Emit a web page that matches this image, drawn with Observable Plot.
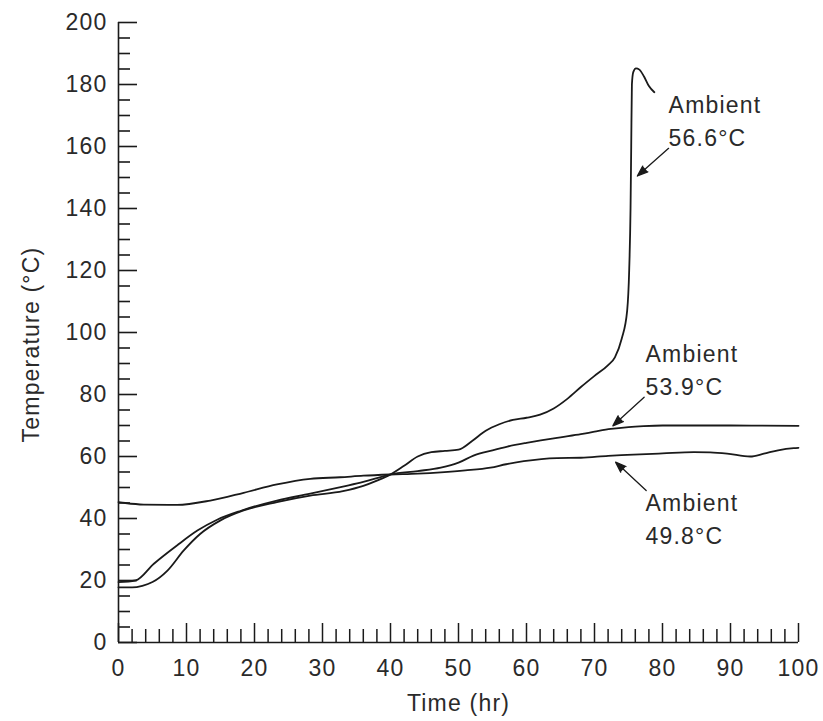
<!DOCTYPE html>
<html><head><meta charset="utf-8">
<script src="https://cdn.jsdelivr.net/npm/d3@7"></script>
<script src="https://cdn.jsdelivr.net/npm/@observablehq/plot@0.6"></script>
<style>body{margin:0;background:#fff}</style>
</head><body><div id="chart"></div>
<script>
// Ambient 56.6°C (runaway)
const timeA = [0, 2, 3.5, 5, 7.2, 9.6, 12, 15, 18.4, 23.3, 28.2, 33, 36, 38, 40, 42, 44, 46, 48, 50, 52, 54, 56, 58, 60, 62, 64, 66, 68, 70, 72, 73, 74, 74.8, 75.1, 75.3, 75.4, 75.5, 75.7, 76.1, 76.6, 77.3, 78, 78.8];
const tempA = [17.8, 17.8, 18.3, 19.5, 23.2, 29.7, 35, 39.4, 42.6, 45.3, 47.4, 48.8, 50.5, 52.2, 54.2, 57, 60, 61.4, 61.8, 62.2, 65, 68.3, 70.4, 71.8, 72.5, 73.5, 75.5, 78.6, 82.4, 86, 89.5, 92, 98, 107, 120, 140, 160, 180, 184, 185.2, 184.8, 182.5, 179.5, 177.5];
// Ambient 53.9°C
const timeC = [0, 2.5, 5.2, 8.6, 11.6, 14.5, 18, 23.3, 28.2, 33, 36, 38, 40, 44, 47.4, 50, 52.2, 55, 57.2, 60, 62.1, 65, 68, 70, 72.4, 75, 77.2, 80, 90, 100];
const tempC = [19.5, 20, 25.4, 31.3, 36.1, 39.6, 42.5, 45.8, 48, 50.3, 51.8, 53, 54.2, 55.3, 56.4, 58, 60.3, 62, 63.2, 64.4, 65.2, 66.2, 67.2, 68, 68.9, 69.5, 69.8, 70, 70, 69.9];
// Ambient 49.8°C
const timeB = [0, 1, 3.7, 8.6, 13.5, 18.4, 23.3, 28.2, 32.6, 36, 40, 44, 47.4, 51, 54.7, 57, 59.6, 64.5, 68, 72, 74.8, 80, 84.6, 87, 89.5, 92.9, 94.9, 97, 99.3, 100];
const tempB = [45.3, 45, 44.5, 44.4, 45.8, 48.3, 51, 52.8, 53.3, 53.8, 54.2, 54.5, 54.9, 55.5, 56.4, 57.5, 58.5, 59.5, 59.6, 60.2, 60.5, 61, 61.4, 61.3, 60.9, 60, 60.9, 62, 62.7, 62.8];

const seriesNames = ["Ambient 56.6°C", "Ambient 53.9°C", "Ambient 49.8°C"];

// annotation labels
const labelText = ["Ambient\n56.6°C", "Ambient\n53.9°C", "Ambient\n49.8°C"];
const labelX = [80.9, 77.5, 77.5];
const labelY = [169, 88.7, 40.5];
// arrows: tail -> tip
const arrowX1 = [80.9, 77.3, 77.6];
const arrowY1 = [159.4, 79.1, 49];
const arrowX2 = [76.3, 72.7, 73.1];
const arrowY2 = [150.5, 69.9, 58.2];

const yMajor = d3.range(0, 201, 20);
const yMinor = d3.range(0, 201, 5).filter(v => v % 20);
const xMajor = d3.range(0, 101, 10);
const xMinor = d3.range(0, 101, 2).filter(v => v % 10);

const rows = [];
[[timeA, tempA], [timeC, tempC], [timeB, tempB]].forEach(([ts, vs], i) => {
  ts.forEach((t, j) => rows.push({series: seriesNames[i], t, T: vs[j]}));
});
const labels = labelText.map((text, i) => ({text, x: labelX[i], y: labelY[i]}));
const arrows = arrowX1.map((x1, i) => ({x1, y1: arrowY1[i], x2: arrowX2[i], y2: arrowY2[i]}));

const font = "'Liberation Sans', Arial, Helvetica, sans-serif";
const ink = "#1a1a1a";
const textInk = "#2a2a2a";
const W = 823, H = 721, mL = 118, mR = 25, mT = 22, mB = 79;
const frameW = W - mL - mR;
const frameH = H - mT - mB;

const chart = Plot.plot({
  width: W,
  height: H,
  marginLeft: mL,
  marginRight: mR,
  marginTop: mT,
  marginBottom: mB,
  x: {domain: [0, 100]},
  y: {domain: [0, 200]},
  style: {fontFamily: font, fontSize: "23px", color: ink, background: "white", letterSpacing: "1.2px"},
  marks: [
    Plot.axisY({ticks: yMajor, tickSize: 0, tickPadding: 11, label: null, fontSize: 23, fill: textInk}),
    Plot.tickY(yMajor, {y: d => d, stroke: ink, strokeWidth: 1.6, insetRight: frameW - 19}),
    Plot.tickY(yMinor, {y: d => d, stroke: ink, strokeWidth: 1.6, insetRight: frameW - 12}),
    Plot.axisX({ticks: xMajor, tickSize: 0, tickPadding: 17, label: null, fontSize: 23, fill: textInk}),
    Plot.tickX(xMajor, {x: d => d, stroke: ink, strokeWidth: 1.5, insetTop: frameH - 19}),
    Plot.tickX(xMinor, {x: d => d, stroke: ink, strokeWidth: 1.5, insetTop: frameH - 13}),
    Plot.ruleX([0], {strokeWidth: 1.6, stroke: ink}),
    Plot.ruleY([0], {strokeWidth: 1.6, stroke: ink}),
    Plot.line(rows, {x: "t", y: "T", z: "series", curve: "monotone-x", stroke: ink, strokeWidth: 1.8}),
    Plot.arrow(arrows, {x1: "x1", y1: "y1", x2: "x2", y2: "y2", stroke: ink, fill: ink, strokeWidth: 1.3, headLength: 13, headAngle: 40}),
    Plot.text(labels, {x: "x", y: "y", text: "text", textAnchor: "start", lineHeight: 1.45, fontSize: 23, fill: textInk}),
    Plot.text(["Time (hr)"], {frameAnchor: "bottom", textAnchor: "middle", dy: 68, fontSize: 23, fill: textInk}),
    Plot.text(["Temperature (°C)"], {frameAnchor: "left", textAnchor: "middle", dx: -87, dy: 12, rotate: -90, fontSize: 23, fill: textInk})
  ]
});
document.getElementById("chart").appendChild(chart);
</script>
</body></html>
